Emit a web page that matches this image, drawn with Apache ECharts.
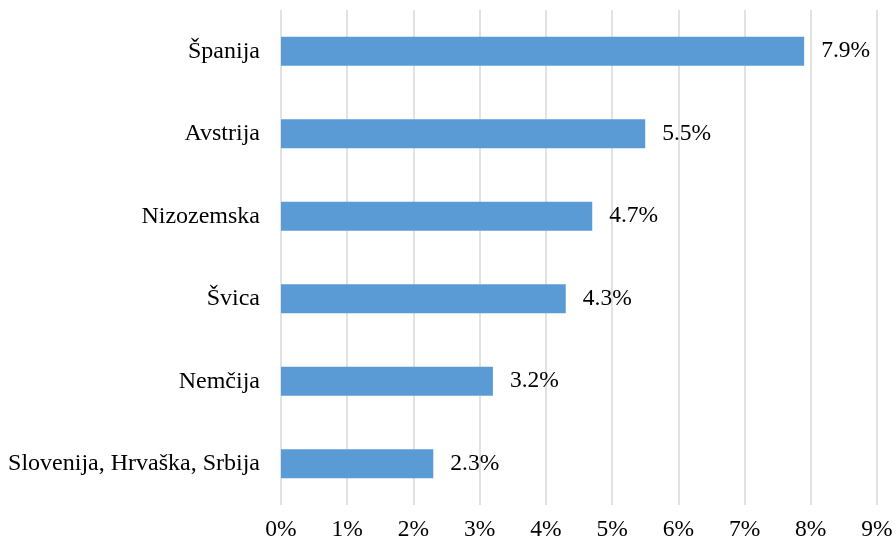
<!DOCTYPE html>
<html>
<head>
<meta charset="utf-8">
<script src="https://cdn.jsdelivr.net/npm/echarts@6/dist/echarts.min.js"></script>
<style>
  html, body { margin: 0; padding: 0; background: #fff; }
  #chart { width: 896px; height: 545px; }
</style>
</head>
<body>
<div id="chart"></div>
<script>
// kategorije (od spodaj navzgor)
const countries = ['Slovenija, Hrvaška, Srbija', 'Nemčija', 'Švica', 'Nizozemska', 'Avstrija', 'Španija'];
const shares = [2.3, 3.2, 4.3, 4.7, 5.5, 7.9];
const axisTicks = [0, 1, 2, 3, 4, 5, 6, 7, 8, 9];

const font = '"Liberation Serif", "Times New Roman", serif';

const chart = echarts.init(document.getElementById('chart'));
chart.setOption({
  animation: false,
  grid: { left: 281, right: 19, top: 10, bottom: 40 },
  xAxis: {
    type: 'value',
    min: axisTicks[0],
    max: axisTicks[axisTicks.length - 1],
    interval: 1,
    axisLine: { show: false },
    axisTick: { show: false },
    splitLine: { lineStyle: { color: '#d9d9d9', width: 1.5 } },
    axisLabel: {
      color: '#000',
      fontFamily: font,
      fontSize: 23.5,
      margin: 13,
      formatter: v => v + '%'
    }
  },
  yAxis: {
    type: 'category',
    data: countries,
    axisLine: { show: false },
    axisTick: { show: false },
    axisLabel: {
      color: '#000',
      fontFamily: font,
      fontSize: 24,
      margin: 21
    }
  },
  series: [
    {
      type: 'bar',
      data: shares,
      barWidth: 29,
      itemStyle: { color: '#5b9bd5' },
      label: {
        show: true,
        position: 'right',
        distance: 17,
        color: '#000',
        fontFamily: font,
        fontSize: 23.5,
        formatter: p => p.value.toFixed(1) + '%'
      }
    }
  ]
});
</script>
</body>
</html>
